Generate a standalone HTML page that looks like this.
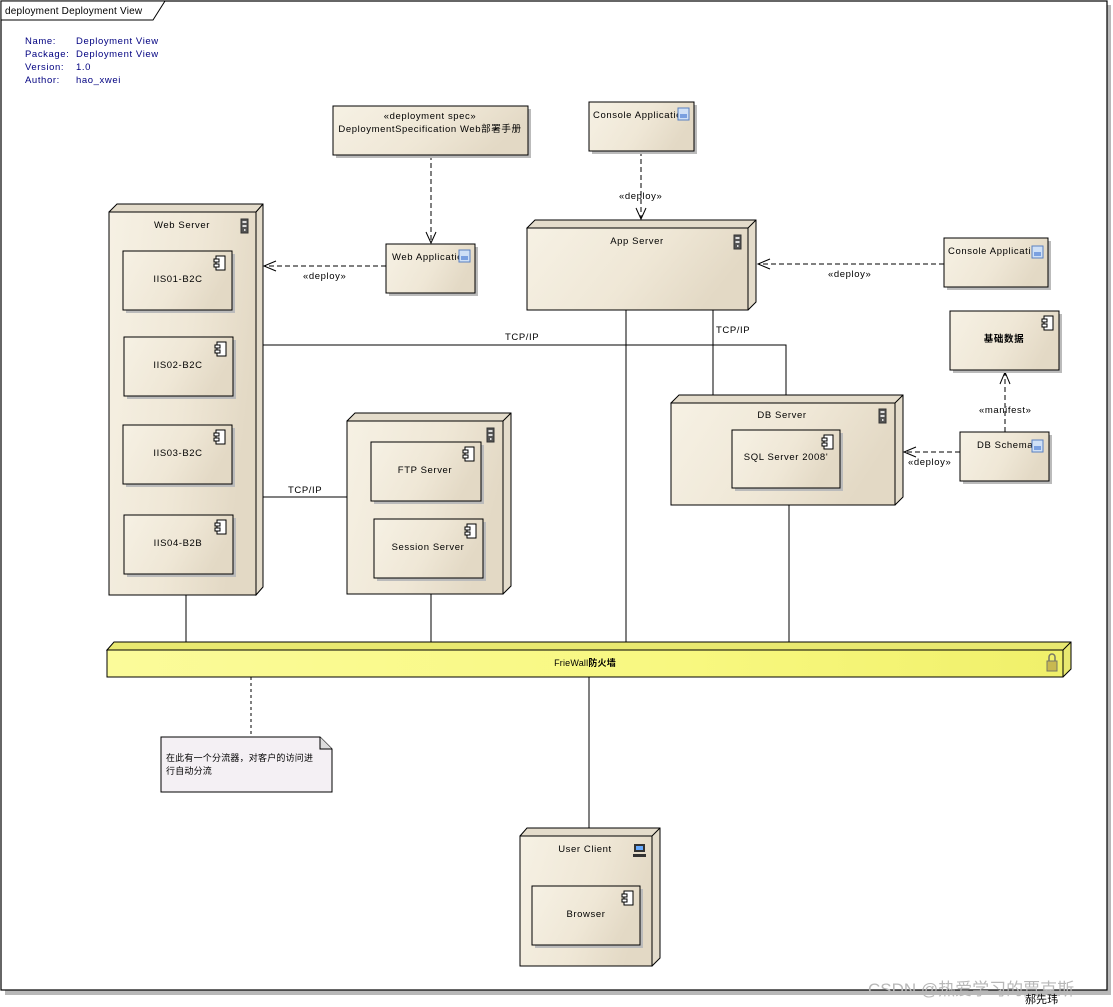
<!DOCTYPE html>
<html><head><meta charset="utf-8"><style>
html,body{margin:0;padding:0;background:#fff;width:1113px;height:1007px;overflow:hidden}
svg text{font-family:"Liberation Sans","Noto Sans CJK SC",sans-serif;font-size:9.5px;fill:#000;letter-spacing:0.6px}
</style></head><body>
<svg width="1113" height="1007" viewBox="0 0 1113 1007" xmlns="http://www.w3.org/2000/svg">
<defs>
<linearGradient id="g" x1="0" y1="0" x2="1" y2="0.3"><stop offset="0" stop-color="#f6f1e4"/><stop offset="0.6" stop-color="#efe7d6"/><stop offset="1" stop-color="#e3d9c5"/></linearGradient>
<linearGradient id="y" x1="0" y1="0" x2="1" y2="0"><stop offset="0" stop-color="#fbfb9a"/><stop offset="0.6" stop-color="#f8f880"/><stop offset="1" stop-color="#f0f06a"/></linearGradient>
<g id="comp"><rect x="2" y="0" width="9" height="14" fill="#fff" stroke="#000" stroke-width="1"/><rect x="0" y="3" width="5" height="3" fill="#fff" stroke="#000"/><rect x="0" y="8" width="5" height="3" fill="#fff" stroke="#000"/></g>
<g id="srv"><rect x="0" y="0" width="7" height="14" fill="#555" stroke="#333"/><rect x="1.5" y="2" width="4" height="2" fill="#ddd"/><rect x="1.5" y="6" width="4" height="2" fill="#ddd"/><rect x="3" y="10" width="1.5" height="2" fill="#ddd"/></g>
<g id="art"><rect x="0" y="0" width="11" height="12" fill="#cfe0f6" stroke="#5a80c0"/><rect x="2" y="6" width="7" height="4" fill="#7aa0e0"/></g>
</defs>
<rect x="5" y="5" width="1106" height="990" fill="#b8b8b8"/>
<rect x="1" y="1" width="1106" height="989" fill="#fff" stroke="#000" stroke-width="1.2"/>
<path d="M1 1 H165 L153 20 H1 Z" fill="#fff" stroke="#000"/>
<text x="5" y="14" style="font-size:10px;letter-spacing:0.2px">deployment Deployment View</text>
<text x="25" y="44" fill="#000080" style="fill:#000080">Name:</text><text x="76" y="44" style="fill:#000080">Deployment View</text>
<text x="25" y="57" style="fill:#000080">Package:</text><text x="76" y="57" style="fill:#000080">Deployment View</text>
<text x="25" y="70" style="fill:#000080">Version:</text><text x="76" y="70" style="fill:#000080">1.0</text>
<text x="25" y="83" style="fill:#000080">Author:</text><text x="76" y="83" style="fill:#000080">hao_xwei</text>
<g stroke="#000" fill="none" stroke-width="1">
<path d="M262 345 H786 V395"/>
<path d="M713 310 V395"/>
<path d="M626 310 V642"/>
<path d="M263 497 H347"/>
<path d="M186 595 V642"/>
<path d="M431 594 V642"/>
<path d="M789 505 V642"/>
<path d="M589 677 V828"/>
</g>
<g stroke="#000" fill="none" stroke-width="1" stroke-dasharray="5,3">
<path d="M431 155 V243"/>
<path d="M386 266 H264"/>
<path d="M641 151 V219"/>
<path d="M944 264 H758"/>
<path d="M1005 432 V372"/>
<path d="M960 452 H904"/>
<path d="M251 677 V737" stroke-dasharray="3,3"/>
</g>
<g stroke="#000" fill="none" stroke-width="1">
<path d="M426 232 L431 243 L436 232"/>
<path d="M276 261 L264 266 L276 271"/>
<path d="M636 208 L641 219 L646 208"/>
<path d="M770 259 L758 264 L770 269"/>
<path d="M1000 384 L1005 372 L1010 384"/>
<path d="M916 447 L904 452 L916 457"/>
</g>
<text x="303" y="279">«deploy»</text>
<text x="619" y="199">«deploy»</text>
<text x="828" y="277">«deploy»</text>
<text x="908" y="465">«deploy»</text>
<text x="979" y="413">«manifest»</text>
<text x="505" y="340">TCP/IP</text>
<text x="716" y="333">TCP/IP</text>
<text x="288" y="493">TCP/IP</text>
<rect x="336" y="109" width="195" height="49" fill="#bbb"/>
<rect x="333" y="106" width="195" height="49" fill="url(#g)" stroke="#000"/>
<text x="430" y="119" text-anchor="middle">«deployment spec»</text>
<text x="430" y="132" text-anchor="middle">DeploymentSpecification Web部署手册</text>
<rect x="389" y="247" width="89" height="49" fill="#bbb"/><rect x="386" y="244" width="89" height="49" fill="url(#g)" stroke="#000"/>
<text x="392" y="260">Web Application</text><use href="#art" x="459" y="250"/>
<rect x="592" y="105" width="105" height="49" fill="#bbb"/><rect x="589" y="102" width="105" height="49" fill="url(#g)" stroke="#000"/>
<text x="593" y="118">Console Application</text><use href="#art" x="678" y="108"/>
<rect x="947" y="241" width="104" height="49" fill="#bbb"/><rect x="944" y="238" width="104" height="49" fill="url(#g)" stroke="#000"/>
<text x="948" y="254">Console Application</text><use href="#art" x="1032" y="246"/>
<rect x="963" y="435" width="89" height="49" fill="#bbb"/><rect x="960" y="432" width="89" height="49" fill="url(#g)" stroke="#000"/>
<text x="977" y="448">DB Schema</text><use href="#art" x="1032" y="440"/>
<rect x="953" y="314" width="109" height="59" fill="#bbb"/><rect x="950" y="311" width="109" height="59" fill="url(#g)" stroke="#000"/>
<text x="1004" y="342" text-anchor="middle" style="font-weight:bold">基础数据</text><use href="#comp" x="1042" y="316"/>
<g stroke="#000" stroke-width="1">
<path d="M109 212 L117 204 H263 V587 L256 595 Z" fill="#e4dccb"/>
<path d="M256 212 L263 204" fill="none"/>
<rect x="109" y="212" width="147" height="383" fill="url(#g)"/>
<path d="M527 228 L535 220 H756 V302 L748 310 Z" fill="#e4dccb"/>
<path d="M748 228 L756 220" fill="none"/>
<rect x="527" y="228" width="221" height="82" fill="url(#g)"/>
<path d="M347 421 L355 413 H511 V586 L503 594 Z" fill="#e4dccb"/>
<path d="M503 421 L511 413" fill="none"/>
<rect x="347" y="421" width="156" height="173" fill="url(#g)"/>
<path d="M671 403 L679 395 H903 V497 L895 505 Z" fill="#e4dccb"/>
<path d="M895 403 L903 395" fill="none"/>
<rect x="671" y="403" width="224" height="102" fill="url(#g)"/>
<path d="M520 836 L527 828 H660 V958 L652 966 Z" fill="#e4dccb"/>
<path d="M652 836 L660 828" fill="none"/>
<rect x="520" y="836" width="132" height="130" fill="url(#g)"/>
<path d="M107 650 L114 642 H1071 V669 L1063 677 Z" fill="#e8e870"/>
<path d="M1063 650 L1071 642" fill="none"/>
<rect x="107" y="650" width="956" height="27" fill="url(#y)"/>
</g>
<text x="182" y="228" text-anchor="middle">Web Server</text><use href="#srv" x="241" y="219"/>
<text x="637" y="244" text-anchor="middle">App Server</text><use href="#srv" x="734" y="235"/>
<text x="782" y="418" text-anchor="middle">DB Server</text><use href="#srv" x="879" y="409"/>
<use href="#srv" x="487" y="428"/>
<text x="585" y="852" text-anchor="middle">User Client</text>
<g><rect x="634" y="844" width="11" height="8" fill="#333"/><rect x="636" y="846" width="7" height="4" fill="#6af"/><rect x="633" y="854" width="13" height="3" fill="#333"/></g>
<text x="585" y="666" text-anchor="middle" style="font-size:9px;letter-spacing:0.2px">FrieWall<tspan style="font-weight:bold">防火墙</tspan></text>
<g><rect x="1047" y="661" width="10" height="10" fill="#c8b850" stroke="#776"/><path d="M1049 661 V657 a3 3 0 0 1 6 0 V661" fill="none" stroke="#776" stroke-width="1.5"/></g>
<g stroke="#000">
<rect x="126" y="254" width="109" height="59" fill="#bbb" stroke="none"/><rect x="123" y="251" width="109" height="59" fill="url(#g)"/>
<rect x="127" y="340" width="109" height="59" fill="#bbb" stroke="none"/><rect x="124" y="337" width="109" height="59" fill="url(#g)"/>
<rect x="126" y="428" width="109" height="59" fill="#bbb" stroke="none"/><rect x="123" y="425" width="109" height="59" fill="url(#g)"/>
<rect x="127" y="518" width="109" height="59" fill="#bbb" stroke="none"/><rect x="124" y="515" width="109" height="59" fill="url(#g)"/>
<rect x="374" y="445" width="110" height="59" fill="#bbb" stroke="none"/><rect x="371" y="442" width="110" height="59" fill="url(#g)"/>
<rect x="377" y="522" width="109" height="59" fill="#bbb" stroke="none"/><rect x="374" y="519" width="109" height="59" fill="url(#g)"/>
<rect x="735" y="433" width="108" height="58" fill="#bbb" stroke="none"/><rect x="732" y="430" width="108" height="58" fill="url(#g)"/>
<rect x="535" y="889" width="108" height="59" fill="#bbb" stroke="none"/><rect x="532" y="886" width="108" height="59" fill="url(#g)"/>
</g>
<use href="#comp" x="214" y="256"/><text x="178" y="282" text-anchor="middle">IIS01-B2C</text>
<use href="#comp" x="215" y="342"/><text x="178" y="368" text-anchor="middle">IIS02-B2C</text>
<use href="#comp" x="214" y="430"/><text x="178" y="456" text-anchor="middle">IIS03-B2C</text>
<use href="#comp" x="215" y="520"/><text x="178" y="546" text-anchor="middle">IIS04-B2B</text>
<use href="#comp" x="463" y="447"/><text x="425" y="473" text-anchor="middle">FTP Server</text>
<use href="#comp" x="465" y="524"/><text x="428" y="550" text-anchor="middle">Session Server</text>
<use href="#comp" x="822" y="435"/><text x="786" y="460" text-anchor="middle">SQL Server 2008'</text>
<use href="#comp" x="622" y="891"/><text x="586" y="917" text-anchor="middle">Browser</text>
<path d="M161 737 H320 L332 749 V792 H161 Z" fill="#f4f0f4" stroke="#000"/>
<path d="M320 737 V749 H332" fill="#ddd" stroke="#000"/>
<text x="166" y="761" style="font-size:9px;letter-spacing:0.2px">在此有一个分流器，对客户的访问进</text>
<text x="166" y="774" style="font-size:9px;letter-spacing:0.2px">行自动分流</text>
<text x="868" y="995" style="font-size:17px;fill:#b8b8b8;letter-spacing:0">CSDN @热爱学习的贾克斯</text>
<text x="1025" y="1003" style="font-size:11px;letter-spacing:0">郝先玮</text>
</svg>
</body></html>
